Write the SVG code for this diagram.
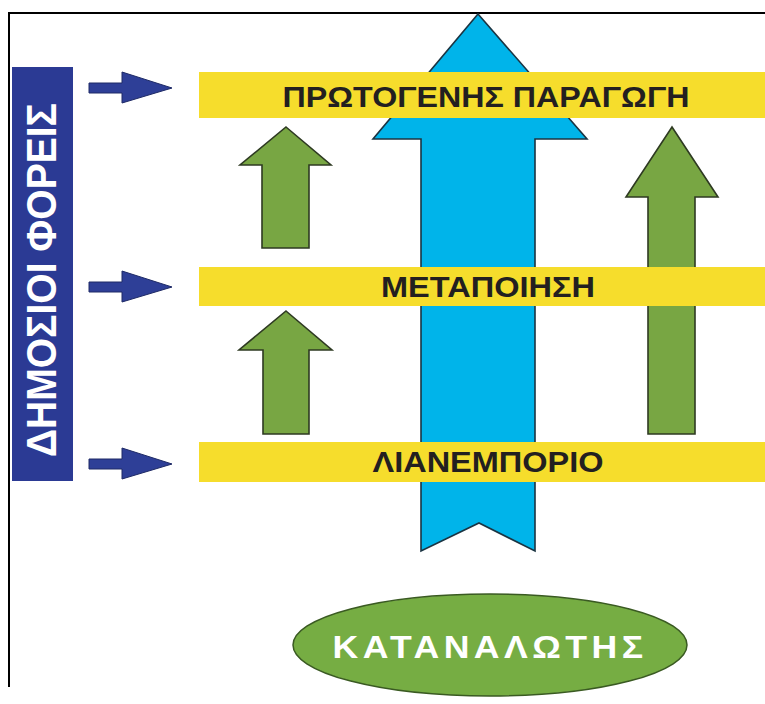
<svg xmlns="http://www.w3.org/2000/svg" width="765" height="704" viewBox="0 0 765 704">
<style>
.band{fill:#F6DD2C}
.bt{font-family:"Liberation Sans",Arial,sans-serif;font-weight:bold;font-size:29px;fill:#231F20;text-anchor:middle}
.green{fill:#78A643;stroke:#2E3A22;stroke-width:1.6;stroke-linejoin:miter}
.cyan{fill:#00B4EA;stroke:#1B3442;stroke-width:1.6}
.barrow{fill:#2E3F97;stroke:#1E2A66;stroke-width:1}
</style>
<rect width="765" height="704" fill="#FFFFFF"/>
<g id="frame">
<line x1="8" y1="13" x2="765" y2="13" stroke="#000" stroke-width="2"/>
<line x1="9" y1="12" x2="9" y2="687" stroke="#000" stroke-width="2"/>
</g>
<g id="connectors">
<path id="flow-main" class="cyan" d="M478,14 L587,139 L535,139 L535,551 L479,523 L421,551 L421,139 L373,139 Z"/>
<path id="flow-up1" class="green" d="M286,127 L331,165 L309,165 L309,248 L262,248 L262,165 L240,165 Z"/>
<path id="flow-up2" class="green" d="M286,311 L332,350 L309,350 L309,434 L263,434 L263,350 L239,350 Z"/>
<path id="flow-up3" class="green" d="M672,127 L718,197 L695,197 L695,434 L648,434 L648,197 L626,197 Z"/>
<path id="in1" class="barrow" d="M89,83 L122,83 L122,72 L172,88 L122,103 L122,93 L89,93 Z"/>
<path id="in2" class="barrow" d="M89,282 L122,282 L122,271 L172,287 L122,302 L122,292 L89,292 Z"/>
<path id="in3" class="barrow" d="M89,459 L122,459 L122,448 L172,464 L122,479 L122,469 L89,469 Z"/>
</g>
<g id="public-bodies">
<rect x="12" y="67" width="61" height="414" fill="#2B3A94"/>
<text transform="translate(56,280) rotate(-90)" font-family="'Liberation Sans',Arial,sans-serif" font-weight="bold" font-size="42" fill="#FFFFFF" text-anchor="middle" textLength="354" lengthAdjust="spacingAndGlyphs">ΔΗΜΟΣΙΟΙ ΦΟΡΕΙΣ</text>
</g>
<g id="primary-production">
<rect class="band" x="199" y="72" width="566" height="46"/>
<text class="bt" x="486" y="107" textLength="407" lengthAdjust="spacingAndGlyphs">ΠΡΩΤΟΓΕΝΗΣ ΠΑΡΑΓΩΓΗ</text>
</g>
<g id="processing">
<rect class="band" x="199" y="267" width="566" height="39"/>
<text class="bt" x="488" y="297" textLength="214" lengthAdjust="spacingAndGlyphs">ΜΕΤΑΠΟΙΗΣΗ</text>
</g>
<g id="retail">
<rect class="band" x="199" y="442" width="566" height="40"/>
<text class="bt" x="488" y="472" textLength="231" lengthAdjust="spacingAndGlyphs">ΛΙΑΝΕΜΠΟΡΙΟ</text>
</g>
<g id="consumer">
<ellipse cx="490" cy="645" rx="197" ry="51" fill="#76AD43" stroke="#3A5A22" stroke-width="1.5"/>
<text x="490" y="658" font-family="'Liberation Sans',Arial,sans-serif" font-weight="bold" font-size="32" fill="#FFFFFF" text-anchor="middle" letter-spacing="4" textLength="315" lengthAdjust="spacingAndGlyphs">ΚΑΤΑΝΑΛΩΤΗΣ</text>
</g>
</svg>
